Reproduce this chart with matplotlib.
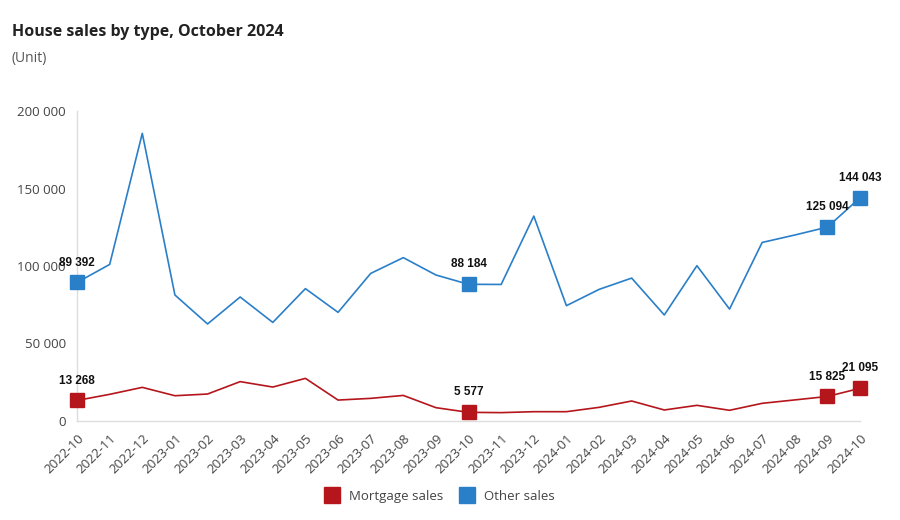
import matplotlib

matplotlib.use("Agg")
import matplotlib.pyplot as plt
from matplotlib.ticker import FuncFormatter

months = ["2022-10", "2022-11", "2022-12", "2023-01", "2023-02", "2023-03", "2023-04",
          "2023-05", "2023-06", "2023-07", "2023-08", "2023-09", "2023-10", "2023-11",
          "2023-12", "2024-01", "2024-02", "2024-03", "2024-04", "2024-05", "2024-06",
          "2024-07", "2024-08", "2024-09", "2024-10"]
mortgage = [13268, 17200, 21700, 16300, 17400, 25400, 21900, 27500, 13500, 14600, 16500,
            8600, 5577, 5400, 6000, 6000, 8800, 12900, 7100, 10100, 6900, 11400, 13600,
            15825, 21095]
other = [89392, 101000, 185600, 81300, 62600, 80000, 63600, 85400, 70100, 95200, 105400,
         94200, 88184, 88100, 132200, 74400, 84900, 92200, 68400, 100200, 72200, 115200,
         120000, 125094, 144043]
labelled = [0, 12, 23, 24]

red = "#b5161c"
blue = "#2a7fc9"

plt.rcParams["font.family"] = ["Open Sans", "DejaVu Sans"]
fig = plt.figure(figsize=(9, 5.2), dpi=100)
ax = fig.add_axes([0.0856, 0.1904, 0.87, 0.5961])

x = list(range(len(months)))
for vals, col in [(other, blue), (mortgage, red)]:
    ax.plot(x, vals, color=col, lw=1.2, zorder=2, clip_on=False)
    ax.plot([x[i] for i in labelled], [vals[i] for i in labelled], ls="none",
            marker="s", ms=9.5, color=col, zorder=3, clip_on=False)
    for i in labelled:
        ax.annotate(f"{vals[i]:,}".replace(",", " "), (x[i], vals[i]),
                    xytext=(0, 10), textcoords="offset points", ha="center",
                    va="bottom", fontsize=8.5, fontweight="bold",
                    family="Liberation Sans", color="#111111", zorder=4)

ax.set_xlim(0, 24)
ax.set_ylim(0, 200000)
ax.set_yticks([0, 50000, 100000, 150000, 200000])
ax.yaxis.set_major_formatter(FuncFormatter(lambda v, p: f"{int(v):,}".replace(",", " ")))
ax.set_xticks(x)
ax.set_xticklabels(months, rotation=45, ha="right", rotation_mode="anchor")
ax.tick_params(length=0, labelsize=9.5, colors="#444444", pad=8)
for s in ["top", "right"]:
    ax.spines[s].set_visible(False)
for s in ["left", "bottom"]:
    ax.spines[s].set_color("#dddddd")
    ax.spines[s].set_linewidth(1)
    ax.spines[s].set_zorder(1)

fig.text(0.013, 0.93, "House sales by type, October 2024", fontsize=11.5,
         fontweight="bold", color="#222222")
fig.text(0.013, 0.88, "(Unit)", fontsize=10, color="#555555")

h1 = plt.Line2D([], [], ls="none", marker="s", ms=11, color=red)
h2 = plt.Line2D([], [], ls="none", marker="s", ms=11, color=blue)
fig.legend([h1, h2], ["Mortgage sales", "Other sales"], loc="center",
           bbox_to_anchor=(0.485, 0.046), ncol=2, frameon=False, fontsize=9.5,
           handletextpad=0.3, columnspacing=0.8, labelcolor="#444444")

fig.savefig("out.png", dpi=100)
